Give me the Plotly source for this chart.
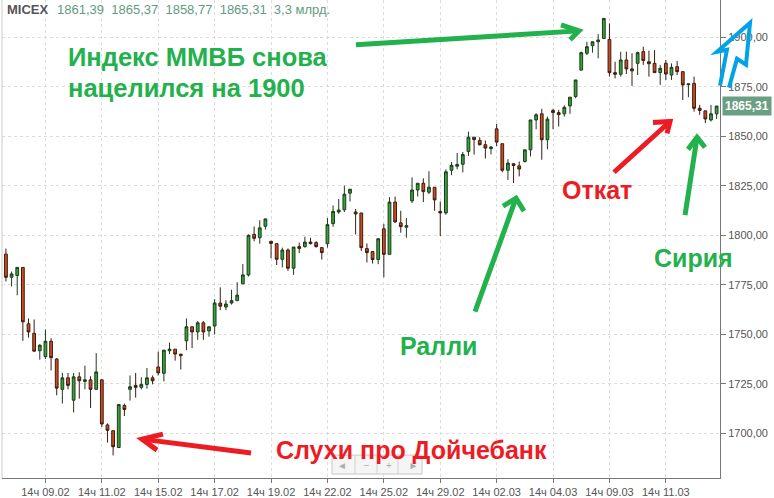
import plotly.graph_objects as go

# свечи MICEX (часовые)
opens = [1790.5, 1778.8, 1779.7, 1783.8, 1755.3, 1750.5, 1741.7, 1738.7, 1746.5, 1737.5,
         1722.2, 1728.0, 1716.7, 1728.5, 1726.2, 1727.0, 1722.2, 1727.0, 1704.2, 1701.3,
         1692.8, 1714.0, 1722.2, 1724.2, 1723.2, 1724.7, 1728.0, 1733.5, 1730.3, 1741.7,
         1742.5, 1740.0, 1746.7, 1753.8, 1751.2, 1755.8, 1751.7, 1754.2, 1765.8, 1763.8,
         1765.8, 1767.0, 1775.5, 1780.0, 1800.5, 1798.8, 1804.6, 1797.0, 1795.8, 1787.9,
         1792.6, 1783.4, 1794.3, 1794.3, 1796.6, 1796.3, 1793.8, 1795.8, 1805.9, 1811.8,
         1812.9, 1821.3, 1811.8, 1811.3, 1793.3, 1791.8, 1787.8, 1803.3, 1790.4, 1816.8,
         1806.3, 1804.1, 1817.4, 1822.9, 1826.3, 1821.8, 1824.3, 1812.1, 1811.3, 1832.9,
         1834.9, 1835.9, 1842.4, 1849.6, 1847.9, 1845.8, 1843.8, 1853.8, 1846.3, 1832.9,
         1836.2, 1835.1, 1837.3, 1843.2, 1858.3, 1861.4, 1848.3, 1863.1, 1862.0, 1861.4,
         1865.4, 1870.1, 1883.5, 1892.0, 1895.8, 1897.8, 1899.5, 1899.0, 1882.2, 1881.4,
         1888.6, 1884.1, 1886.9, 1892.8, 1887.7, 1886.9, 1882.2, 1886.9, 1881.0, 1885.2,
         1882.7, 1876.1, 1876.8, 1864.2, 1862.9, 1858.3, 1861.39]
highs = [1793.3, 1781.7, 1783.8, 1783.8, 1758.0, 1757.5, 1745.0, 1752.5, 1748.0, 1738.0,
         1730.5, 1730.5, 1730.5, 1730.8, 1734.2, 1728.8, 1740.5, 1727.0, 1705.0, 1701.3,
         1714.5, 1715.0, 1729.2, 1730.5, 1728.3, 1733.0, 1729.2, 1741.3, 1742.0, 1745.8,
         1742.5, 1740.0, 1758.0, 1753.8, 1756.7, 1756.7, 1753.8, 1767.8, 1773.7, 1767.2,
         1772.5, 1776.3, 1785.5, 1800.5, 1804.5, 1807.6, 1808.3, 1797.0, 1795.8, 1793.8,
         1793.4, 1794.1, 1796.3, 1799.3, 1798.8, 1797.1, 1793.8, 1808.8, 1815.1, 1818.4,
         1825.1, 1823.3, 1813.3, 1811.3, 1795.9, 1791.8, 1798.3, 1805.8, 1819.3, 1819.6,
         1812.4, 1808.8, 1829.3, 1826.3, 1828.8, 1832.4, 1824.3, 1817.1, 1833.3, 1837.1,
         1841.6, 1842.1, 1852.4, 1849.6, 1849.6, 1847.9, 1845.1, 1856.3, 1846.3, 1838.5,
         1836.2, 1837.3, 1843.2, 1858.3, 1861.7, 1863.9, 1860.0, 1863.9, 1863.4, 1865.6,
         1869.8, 1878.5, 1892.8, 1897.8, 1897.8, 1901.7, 1909.6, 1907.1, 1887.7, 1892.8,
         1892.8, 1892.0, 1892.8, 1895.3, 1893.3, 1893.6, 1886.1, 1888.6, 1886.9, 1888.1,
         1882.7, 1876.5, 1880.2, 1865.9, 1862.9, 1865.9, 1865.37]
lows = [1776.7, 1774.2, 1769.7, 1746.7, 1748.3, 1741.2, 1737.2, 1737.5, 1731.7, 1719.2,
        1715.0, 1722.2, 1710.5, 1717.5, 1722.2, 1712.8, 1722.2, 1703.2, 1695.3, 1688.8,
        1692.8, 1708.7, 1716.5, 1718.0, 1722.2, 1722.5, 1724.7, 1729.2, 1726.2, 1740.0,
        1736.7, 1732.2, 1742.0, 1743.0, 1747.2, 1747.2, 1748.8, 1750.0, 1762.2, 1762.2,
        1765.0, 1767.0, 1775.5, 1779.2, 1797.0, 1795.8, 1802.9, 1788.4, 1785.0, 1783.8,
        1782.1, 1780.0, 1791.0, 1793.8, 1795.4, 1793.8, 1787.8, 1793.8, 1804.3, 1810.9,
        1811.8, 1817.1, 1800.4, 1792.1, 1786.3, 1785.8, 1785.4, 1778.8, 1790.4, 1806.3,
        1801.3, 1798.8, 1816.3, 1819.6, 1816.8, 1820.8, 1812.4, 1799.6, 1810.4, 1830.4,
        1833.3, 1831.8, 1840.1, 1840.8, 1845.4, 1838.8, 1840.9, 1845.1, 1831.8, 1828.0,
        1826.4, 1829.8, 1836.8, 1839.9, 1853.6, 1838.2, 1843.5, 1853.6, 1855.0, 1860.0,
        1861.4, 1869.3, 1883.2, 1891.1, 1892.3, 1889.4, 1899.5, 1880.2, 1879.3, 1880.2,
        1881.5, 1875.5, 1881.0, 1886.1, 1880.2, 1882.2, 1876.0, 1878.5, 1878.5, 1881.0,
        1868.4, 1869.8, 1862.5, 1860.9, 1856.7, 1857.5, 1858.77]
closes = [1778.8, 1780.5, 1783.8, 1756.3, 1751.2, 1741.5, 1744.5, 1746.5, 1738.2, 1722.8,
          1728.0, 1724.2, 1728.5, 1726.5, 1727.0, 1722.2, 1731.0, 1704.7, 1701.5, 1693.2,
          1714.5, 1712.0, 1723.5, 1723.2, 1724.7, 1728.0, 1726.5, 1730.5, 1742.0, 1742.5,
          1740.0, 1739.2, 1753.8, 1751.2, 1755.8, 1751.2, 1753.8, 1765.8, 1764.2, 1765.3,
          1767.0, 1769.8, 1780.0, 1800.0, 1798.5, 1803.8, 1808.3, 1795.9, 1787.9, 1792.6,
          1783.4, 1794.1, 1793.4, 1796.6, 1795.8, 1794.3, 1791.3, 1805.4, 1812.1, 1812.8,
          1820.8, 1823.3, 1810.8, 1793.8, 1791.3, 1787.8, 1798.3, 1790.4, 1816.8, 1806.8,
          1804.4, 1804.9, 1822.9, 1826.3, 1822.1, 1824.3, 1817.9, 1811.3, 1832.1, 1835.4,
          1835.8, 1840.8, 1849.6, 1848.4, 1845.8, 1844.1, 1844.6, 1847.1, 1832.9, 1836.5,
          1835.3, 1833.5, 1843.2, 1858.3, 1860.9, 1848.3, 1858.7, 1862.0, 1861.0, 1864.7,
          1869.8, 1878.5, 1892.3, 1895.3, 1897.8, 1898.7, 1909.6, 1882.2, 1881.4, 1888.6,
          1884.1, 1883.1, 1892.3, 1888.3, 1886.7, 1882.2, 1884.4, 1881.5, 1884.9, 1882.7,
          1876.0, 1876.5, 1864.2, 1863.1, 1858.8, 1861.4, 1865.31]

tick_idx = [7, 17, 27, 37, 47, 57, 67, 77, 87, 97, 107, 117]
tick_labels = ['14ч 09.02', '14ч 11.02', '14ч 15.02', '14ч 17.02', '14ч 19.02', '14ч 22.02',
               '14ч 25.02', '14ч 29.02', '14ч 02.03', '14ч 04.03', '14ч 09.03', '14ч 11.03']
y_ticks = [1700, 1725, 1750, 1775, 1800, 1825, 1850, 1875, 1900]

header = '1861,39  1865,37  1858,77  1865,31  3,3 млрд.'

GREEN = '#22B14C'
RED = '#ED1C24'
BLUE = '#00A2E8'
FONT = 'Liberation Sans, Arial, sans-serif'

# пиксели картинки -> координаты paper
def px(x):
    return (x - 2) / 718


def py(y):
    return (480 - y) / 480


def path(points):
    return 'M ' + ' L '.join(f'{px(x):.4f},{py(y):.4f}' for x, y in points)


fig = go.Figure(go.Candlestick(
    x=list(range(len(opens))), open=opens, high=highs, low=lows, close=closes,
    increasing=dict(fillcolor='#35a335', line=dict(color='#1c3a1c', width=1)),
    decreasing=dict(fillcolor='#cf4a1e', line=dict(color='#3a1c10', width=1)),
    showlegend=False, hoverinfo='skip'))

fig.update_layout(
    width=774, height=498,
    margin=dict(l=2, r=54, t=0, b=18),
    plot_bgcolor='white', paper_bgcolor='white',
    font=dict(family=FONT, color='#555', size=11),
    xaxis=dict(range=[-0.7, 126.6], rangeslider=dict(visible=False),
               tickvals=tick_idx, ticktext=tick_labels, ticks='outside', ticklen=4,
               tickcolor='#777', showline=True, linecolor='#777',
               showgrid=True, gridcolor='#dcdcdc', griddash='dot', zeroline=False,
               tickfont=dict(size=11, color='#555')),
    yaxis=dict(side='right', range=[1677.4, 1918.9], tickvals=y_ticks,
               ticktext=[f'{v},00' for v in y_ticks], ticks='outside', ticklen=5,
               tickcolor='#777', showline=True, linecolor='#777',
               showgrid=True, gridcolor='#dcdcdc', griddash='dot', zeroline=False,
               tickfont=dict(size=11, color='#555')),
)

shapes = [dict(type='line', xref='paper', yref='paper', x0=0, x1=0, y0=0, y1=1,
               line=dict(color='#cccccc', width=1))]

# навигация внизу
shapes.append(dict(type='rect', xref='paper', yref='paper', x0=px(332), x1=px(422),
                   y0=py(476), y1=py(457), line=dict(color='#c8c8c8', width=1),
                   fillcolor='#f5f5f5'))
for sx in [355, 377, 398]:
    shapes.append(dict(type='line', xref='paper', yref='paper', x0=px(sx), x1=px(sx),
                       y0=py(476), y1=py(457), line=dict(color='#d0d0d0', width=1)))

arrows = [
    (GREEN, [(356, 45), (579, 31)], [(561, 25), (579, 31), (570, 40)]),
    (RED, [(251, 455), (142, 441)], [(163, 436), (142, 441), (157, 452)]),
    (GREEN, [(475, 313), (516, 199)], [(503, 207), (516, 199), (524, 212)]),
    (RED, [(614, 173), (670, 122)], [(653, 123), (670, 122), (667, 134)]),
    (GREEN, [(685, 216), (697, 138)], [(688, 150), (697, 138), (705, 148)]),
]
for color, shaft, head in arrows:
    shapes.append(dict(type='path', xref='paper', yref='paper', path=path(shaft),
                       line=dict(color=color, width=5)))
    shapes.append(dict(type='path', xref='paper', yref='paper', path=path(head),
                       line=dict(color=color, width=5)))

shapes.append(dict(type='path', xref='paper', yref='paper',
                   path=path([(720, 86), (727, 50), (717, 52), (750, 23),
                              (746, 65), (737, 59), (729, 88)]),
                   line=dict(color=BLUE, width=4)))
fig.update_layout(shapes=shapes)


def label(text, x, y, color, size=25, bold=True, anchor='left', yref='paper', **kw):
    fig.add_annotation(text=f'<b>{text}</b>' if bold else text,
                       x=px(x), y=py(y) if yref == 'paper' else y,
                       xref='paper', yref=yref, xanchor=anchor, yanchor='middle',
                       showarrow=False, font=dict(family=FONT, size=size, color=color),
                       **kw)


label('MICEX', 5, 10, '#555', size=13)
label(header, 55, 10, '#5f9c80', size=13, bold=False)

label('Индекс ММВБ снова', 66, 57, GREEN, size=25.5)
label('нацелился на 1900', 66, 88, GREEN, size=25.5)
label('Слухи про Дойчебанк', 274, 452, RED)
label('Ралли', 398, 347, GREEN)
label('Откат', 560, 191, RED)
label('Сирия', 652, 259, GREEN)

# текущая цена справа
fig.add_annotation(text='<b>1865,31</b>', x=1, xref='paper', y=closes[-1], yref='y',
                   xanchor='left', yanchor='middle', xshift=2, showarrow=False,
                   bgcolor='#6a9f84', borderpad=2,
                   font=dict(family=FONT, size=12, color='white'))

# кнопки навигации
fig.add_annotation(text='◄      −      +      ►', x=px(377), y=py(467), xref='paper',
                   yref='paper', xanchor='center', yanchor='middle', showarrow=False,
                   font=dict(family=FONT, size=10, color='#b0b0b0'))

fig.write_html('out.html', config={'displayModeBar': False},
               post_script="document.body.style.margin='0';")
